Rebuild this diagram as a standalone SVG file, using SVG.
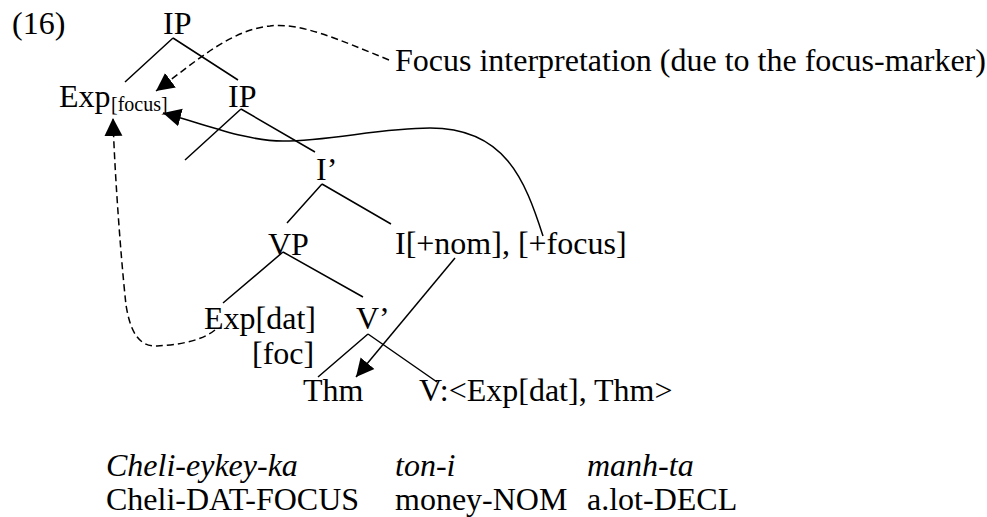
<svg xmlns="http://www.w3.org/2000/svg" width="987" height="517" viewBox="0 0 987 517" font-family="'Liberation Serif', 'Times New Roman', Times, 'DejaVu Serif', serif">
<style>
text{font-family:"Liberation Serif","Times New Roman",Times,"DejaVu Serif",serif;font-size:32px;fill:#000}
.sub{font-size:20px}
.it{font-style:italic}
.br{stroke:#000;stroke-width:1.5;fill:none}
.sol{stroke:#000;stroke-width:1.5;fill:none}
.dash{stroke:#000;stroke-width:1.5;fill:none;stroke-dasharray:7,4}
</style>
<defs>
<marker id="ah" markerUnits="userSpaceOnUse" markerWidth="19" markerHeight="19" viewBox="0 0 19 18" refX="18" refY="9" orient="auto">
<path d="M0,0 L18,9 L0,18 z" fill="#000"/>
</marker>
</defs>
<rect width="987" height="517" fill="#fff"/>
<text x="12" y="34">(16)</text>
<g id="ip-top"><text x="163" y="34">IP</text></g>
<g id="exp-focus"><text x="59" y="107">Exp</text><text class="sub" x="111" y="111">[focus]</text></g>
<g id="ip-2"><text x="228" y="107">IP</text></g>
<g id="i-bar"><text x="316" y="180">I’</text></g>
<g id="vp"><text x="268" y="255">VP</text></g>
<g id="i-head"><text x="395" y="254">I[+nom], [+focus]</text></g>
<g id="exp-dat"><text x="204" y="329">Exp[dat]</text><text x="252" y="364">[foc]</text></g>
<g id="v-bar"><text x="356" y="329">V’</text></g>
<g id="thm"><text x="303" y="401">Thm</text></g>
<g id="v-head"><text x="419" y="401">V:&lt;Exp[dat], Thm&gt;</text></g>
<g id="focus-label"><text x="395" y="71">Focus interpretation (due to the focus-marker)</text></g>
<g id="gloss">
<text class="it" x="106" y="476">Cheli-eykey-ka</text>
<text class="it" x="395" y="476">ton-i</text>
<text class="it" x="587" y="476">manh-ta</text>
<text x="106" y="510">Cheli-DAT-FOCUS</text>
<text x="395" y="510">money-NOM</text>
<text x="587" y="510">a.lot-DECL</text>
</g>
<g id="connectors">
<path class="br" d="M173,38 L125,82 M173,38 L238,80"/>
<path class="br" d="M241,109 L185,160 M241,109 L315,152"/>
<path class="br" d="M322,184 L287,223 M322,184 L391,224"/>
<path class="br" d="M283,252 L223,303 M283,252 L363,297"/>
<path class="br" d="M368,334 L318,377 M368,334 L437,382"/>
<path class="sol" d="M455,258 L356,377" marker-end="url(#ah)"/>
<path class="sol" d="M543,236 C525,180 505,128 430,128 C380,128 330,141 283,141 C245,141 205,124 163,113" marker-end="url(#ah)"/>
<path class="dash" d="M389,60 C340,40 300,22 270,26 C230,30 195,62 156,91" marker-end="url(#ah)"/>
<path class="dash" d="M215,330 C200,342 175,345 157,346 C138,347 130,330 126,305 C120,250 114,160 113,118" marker-end="url(#ah)"/>
</g>
</svg>
